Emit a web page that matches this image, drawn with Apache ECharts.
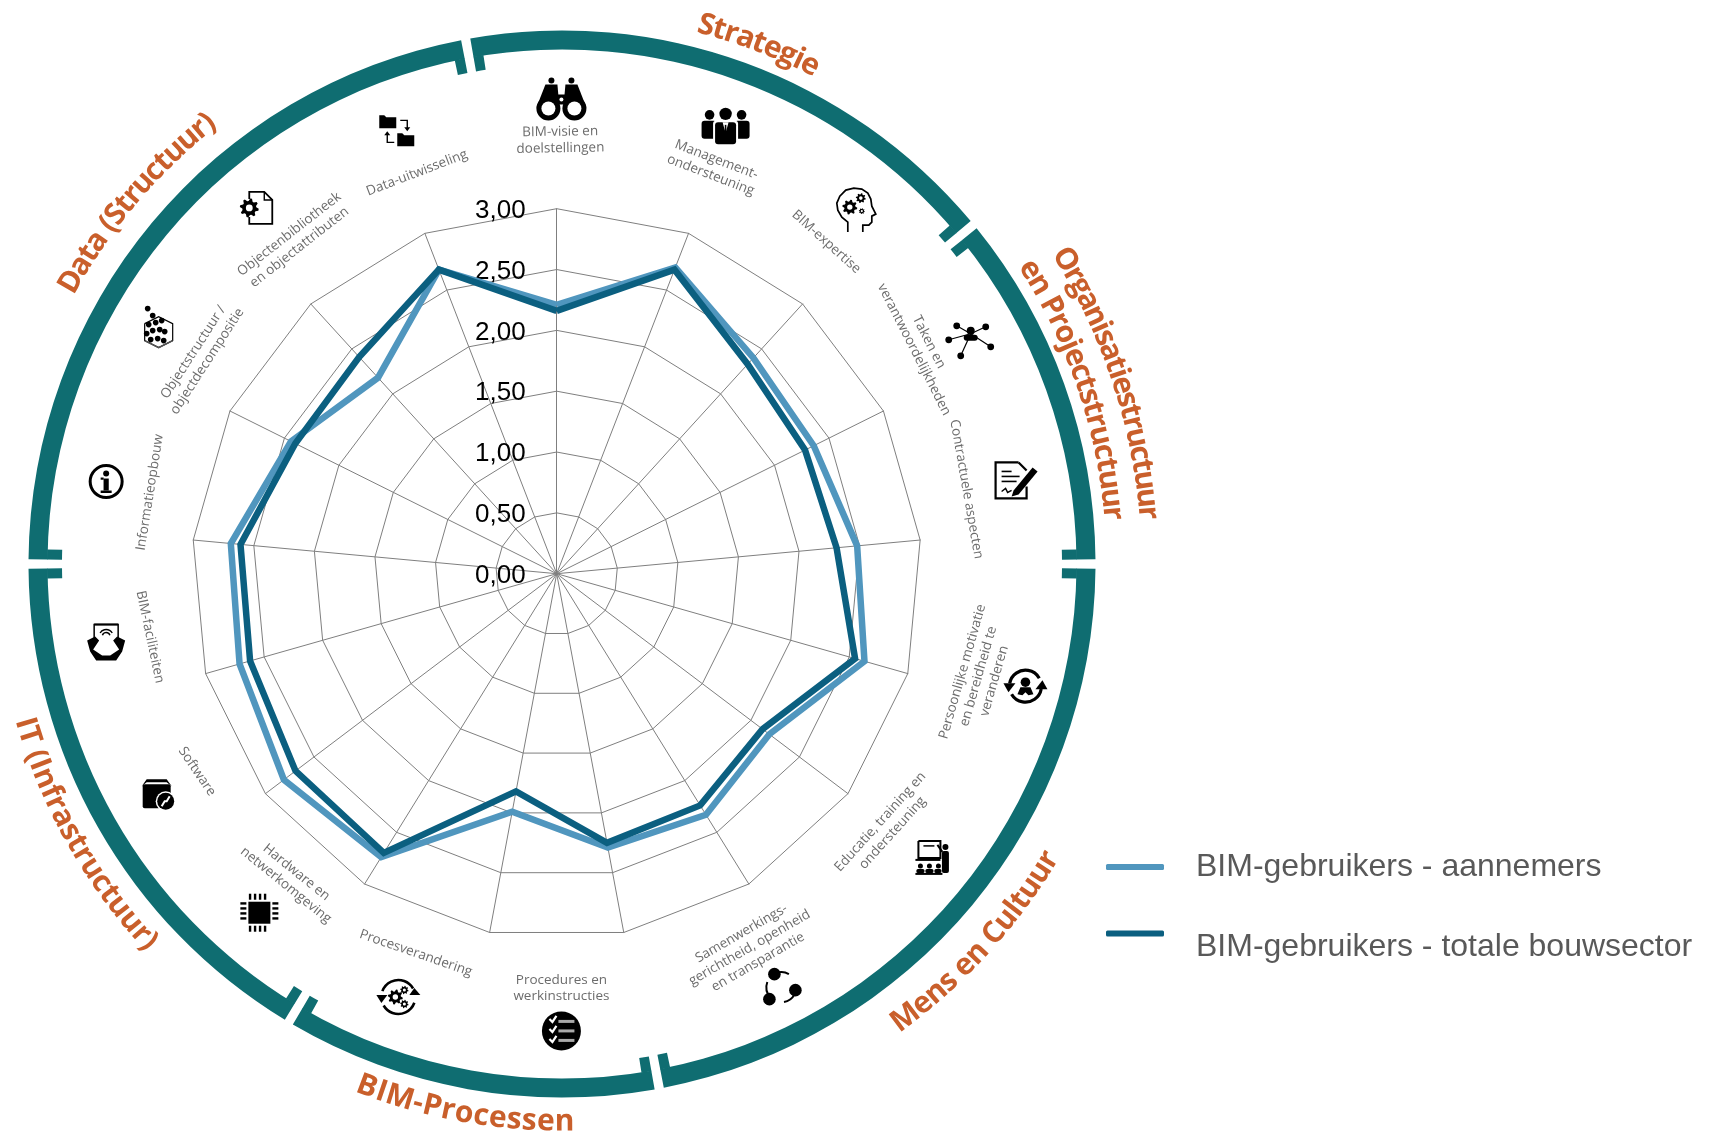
<!DOCTYPE html>
<html>
<head>
<meta charset="utf-8">
<title>BIM-gebruikers radar</title>
<style>html,body{margin:0;padding:0;background:#fff}#c{width:1716px;height:1135px}</style>
<script src="https://cdn.jsdelivr.net/npm/echarts@6/dist/echarts.min.js"></script>
</head>
<body>
<div id="c"></div>
<script>
const categories = ['BIM-visie en\ndoelstellingen','Management-\nondersteuning','BIM-expertise','Taken en\nverantwoordelijkheden','Contractuele aspecten','Persoonlijke motivatie\nen bereidheid te\nveranderen','Educatie, training en\nondersteuning','Samenwerkings-\ngerichtheid, openheid\nen transparantie','Procedures en\nwerkinstructies','Procesverandering','Hardware en\nnetwerkomgeving','Software','BIM-faciliteiten','Informatieopbouw','Objectstructuur /\nobjectdecompositie','Objectenbibliotheek\nen objectattributen','Data-uitwisseling'];
const aannemers = [2.21,2.70,2.40,2.36,2.48,2.63,2.19,2.33,2.29,1.99,2.74,2.81,2.71,2.69,2.44,2.18,2.68];
const totaleBouwsector = [2.16,2.68,2.33,2.28,2.31,2.55,2.12,2.24,2.25,1.82,2.70,2.69,2.62,2.61,2.40,2.41,2.68];
const tickLabels = ['0,00','0,50','1,00','1,50','2,00','2,50','3,00'];
const seriesNames = ['BIM-gebruikers - aannemers','BIM-gebruikers - totale bouwsector'];
const axisMax = 3;

const S = 1716/1568, DEG = Math.PI/180;
const RC = [562,564];
const TEAL='#0F6D71', ORANGE='#C95F2B', GRAY='#6c6c6c';

// ---- decorative ring
const gaps=[349.6,50.5,90,169.5,210.8,270];
const elements=[];
function sector(r0,r,a0,a1){return {type:'sector',shape:{cx:RC[0],cy:RC[1],r0,r,startAngle:(a0-90)*DEG,endAngle:(a1-90)*DEG,clockwise:true},style:{fill:TEAL}};}
const gapHalf=0.5, tickW=1.12;
gaps.forEach((g,i)=>{
  const n=gaps[(i+1)%gaps.length]; const a0=g+gapHalf; let a1=n-gapHalf; if(a1<a0)a1+=360;
  elements.push(sector(514.5,533.5,a0,a1));
  elements.push(sector(500,515,a0,a0+tickW));
  elements.push(sector(500,515,a1-tickW,a1));
});

// ---- curved group titles
const measure=document.createElement('canvas').getContext('2d');
function curved(text,r,a0,a1,size){
  const font='700 '+size+'px "Open Sans"'; measure.font=font;
  const adv=[...text].map(c=>measure.measureText(c).width);
  const total=adv.reduce((a,b)=>a+b,0); const outward=a1>a0; let cum=0;
  [...text].forEach((c,i)=>{
    const t=(cum+adv[i]/2)/total; cum+=adv[i];
    const th=a0+(a1-a0)*t;
    const x=RC[0]+r*Math.sin(th*DEG), y=RC[1]-r*Math.cos(th*DEG);
    const rot=outward?-th*DEG:-(th-180)*DEG;
    if(c!==' ')elements.push({type:'text',x,y,rotation:rot,style:{text:c,font,fill:ORANGE,align:'center',verticalAlign:'middle',textAlign:'center',textVerticalAlign:'middle'}});
  });
}
const groupTitles=['Strategie','Organisatiestructuur','en Projectstructuur','Mens en Cultuur','BIM-Processen','IT (Infrastructuur)','Data (Structuur)'];
const titleArcs=[[557,14.2,27.3,30],[588,57.8,85.6,30],[553,57,85.4,30],[569,144.2,120.6,30],[558,201.5,178.7,30],[560,254,227,30],[566,298.9,321.8,30]];
groupTitles.forEach((t,i)=>curved(t,...titleArcs[i]));

// ---- category labels (position in reduced px, rotation clockwise deg)
const labelPlace=[[512,128,-1],[652,153,21],[755,221,42],[842,316,63],[883,447,80],[894,618,-74],[810,756,-48],[685,866,-30],[513,903,0],[380,871,19],[266,803,39],[180,705,56],[137,582,78],[137,450,-81],[183,326,-57],[269,220,-38],[381,158,-21]];
categories.forEach((t,i)=>{const p=labelPlace[i];
  elements.push({type:'text',x:p[0]*S,y:p[1]*S,rotation:-p[2]*DEG,style:{text:t,font:'13.5px "Open Sans"',fill:GRAY,lineHeight:16.5,align:'center',verticalAlign:'middle',textAlign:'center',textVerticalAlign:'middle'}});
});

// ---- icon primitives
const C=(x,y,r,fill='#000')=>({type:'circle',shape:{cx:x,cy:y,r},style:{fill}});
const O=(x,y,r,w)=>({type:'circle',shape:{cx:x,cy:y,r},style:{fill:'none',stroke:'#000',lineWidth:w}});
const R=(x,y,w,h,fill='#000',r=0)=>({type:'rect',shape:{x,y,width:w,height:h,r},style:{fill}});
const L=(points,w=1.5,stroke='#000')=>({type:'polyline',shape:{points},style:{fill:'none',stroke,lineWidth:w}});
const PG=(points,fill='#000')=>({type:'polygon',shape:{points},style:{fill}});
const A=(x,y,r,a0,a1,w=2.5)=>({type:'arc',shape:{cx:x,cy:y,r,startAngle:a0*DEG,endAngle:a1*DEG,clockwise:true},style:{fill:'none',stroke:'#000',lineWidth:w}});
function gear(x,y,r){const pts=[];const n=8;for(let i=0;i<n*4;i++){const a=(i+0.5)/(n*4)*2*Math.PI;const rr=(i%4<2)?r:r*0.74;pts.push([x+rr*Math.cos(a),y+rr*Math.sin(a)]);}return [PG(pts),C(x,y,r*0.36,'#fff')];}
function folder(x,y){return [PG([[x-9,y-7],[x-4,y-7],[x-2,y-5],[x+8,y-5],[x+8,y+6],[x-9,y+6]])];}
const icons=[
 [C(-10,-18,3),C(10,-18,3),PG([[-16,-14],[-4,-14],[-2,9],[-25,9]]),PG([[16,-14],[4,-14],[2,9],[25,9]]),R(-5,-4,10,10),C(-13,10,12),C(13,10,12),C(-13,10,7,'#fff'),C(13,10,7,'#fff'),C(0,1,2,'#fff')],
 [C(-16,-11,4.8),R(-24,-5,15,18,'#000',3),C(16,-11,4.8),R(9,-5,15,18,'#000',3),C(0,-12,6.2),R(-12.5,-5,25,25,'#fff',3),R(-10.5,-3.5,21,22,'#000',3),PG([[-3,-3.5],[3,-3.5],[0,7]],'#fff'),L([[0,-1],[0,9]],1.6)],
 [L([[-8,22],[-8,12],[-14,7],[-18,0],[-19,-7],[-16,-14],[-10,-20],[-2,-22],[6,-21],[12,-17],[15,-11],[16,-4],[20,4],[16,6],[16,12],[13,15],[7,15],[7,22]],1.7),...gear(-6,-3,7.5),...gear(5,-12,5),...gear(6,1,3)],
 [L([[0,0],[-14,-8]],1.2),L([[0,0],[15,-7]],1.2),L([[0,0],[-22,6]],1.2),L([[0,0],[20,13]],1.2),L([[0,0],[-10,22]],1.2),C(-14,-8,3.4),C(15,-7,3.4),C(-22,6,3.4),C(20,13,3.4),C(-10,22,3.4),C(0,-3,4),R(-7,1,14,6,'#000',3)],
 [L([[3,-18],[-20,-18],[-20,18],[11,18],[11,6]],2.2),L([[3,-18],[11,-10]],2.2),L([[-14,-9],[-4,-9]],1.6),L([[-14,-4],[4,-4]],1.6),L([[-14,1],[1,1]],1.6),L([[-14,11],[-10,8],[-8,12],[-4,10]],1.4),PG([[-2,10],[17,-13],[22,-9],[3,14],[-4,16]])],
 [A(0,0,16,190,330,3.2),A(0,0,16,10,150,3.2),PG([[-22,-3],[-10,-3],[-17,6]]),PG([[22,3],[10,3],[17,-6]]),C(0,-4,4.8),PG([[-8,8],[-5,1],[5,1],[8,8],[3,9],[0,6],[-3,9]])],
 [L([[-14,-16],[8,-16],[8,1],[-14,1],[-14,-16]],2),L([[-17,3],[8,3]],2),L([[-9,-11],[2,-11]],1.5),C(13,-10,3),R(9.5,-6,7,22,'#000',2),L([[10,-5],[5,-12]],2),C(-12,9,2.5),C(-3,9,2.5),C(6,9,2.5),R(-16,12,8,4,'#000',1.5),R(-7,12,8,4,'#000',1.5),R(2,12,7,4,'#000',1.5),R(-17,16,27,2)],
 [A(0,0,15,250,300,2),A(0,0,15,30,80,2),A(0,0,15,135,200,2),C(-7,-13,6.3),C(14,3,6.3),C(-12,12,6.3)],
 [C(0,0,19.5),L([[-12,-12],[-9,-9],[-5,-15]],2.2,'#fff'),L([[-12,-2],[-9,1],[-5,-5]],2.2,'#fff'),L([[-12,8],[-9,11],[-5,5]],2.2,'#fff'),R(-3,-11,16,3,'#aaa'),R(-3,-1.5,16,3,'#aaa'),R(-3,8,16,3,'#aaa')],
 [A(0,0,17,200,330,2.6),A(0,0,17,20,150,2.6),PG([[-22,-2],[-11,-2],[-17,6]]),PG([[22,-2],[11,-2],[16,-9]]),...gear(-3,0,7.5),...gear(6,-7,4.2),...gear(6,7,4.2)],
 [R(-11,-11,22,22),...[-1,0,1,2].flatMap(i=>{const v=-7.5+i*5+3.2;return [R(v-1.2,-19,2.4,6),R(v-1.2,13,2.4,6),R(-19,v-1.2,6,2.4),R(13,v-1.2,6,2.4)];})],
 [R(-16,-8,28,24,'#000',2),PG([[-17,-6],[-12,-13],[8,-13],[13,-6],[8,-10],[-12,-10]]),C(7,9,10,'#fff'),C(7,9,8.5),L([[3,14],[6,9],[8,9],[11,4]],2,'#fff')],
 [L([[-12,-4],[-12,-19],[12,-19],[12,-4]],1.5),L([[-12,-19],[12,-19]],2),A(0,-7,4,200,340,1.5),A(0,-7,7,210,330,1.4),PG([[-19,-3],[-11,-7],[-7,-3],[-13,6],[-4,12],[4,12],[13,6],[7,-3],[11,-7],[19,-3],[16,8],[10,17],[-10,17],[-16,8]])],
 [O(0,0,16,3),C(0,-8,3),R(-2.6,-3,5.2,12),R(-5.5,9,11,2.5),R(-5.5,-4,3,2.2)],
 [L([[-14,-8],[0,-15],[14,-8],[14,9],[0,16],[-14,9],[-14,-8]],1.2),L([[-14,9],[0,16],[14,9]],1.6,'#555'),C(-11,-23,2.8),C(-6,-16,2.8),C(-10,-7,2.8),C(-3,-9,2.8),C(3,-11,2.8),C(-6,-1,2.8),C(-12,2,2.8),C(1,-2,2.8),C(6,0,2.8),C(-8,8,2.8),C(-1,7,2.8),C(5,9,2.8)],
 [L([[-9,-9],[-9,-16],[6,-16],[14,-8],[14,16],[-9,16],[-9,9]],1.8),L([[6,-16],[6,-8],[14,-8]],1.4),...gear(-9,0,9.5)],
 [...folder(-9,-9),...folder(9,9),L([[3,-11],[10,-11],[10,-3]],1.4),PG([[7,-4],[13,-4],[10,0]]),L([[-3,11],[-10,11],[-10,3]],1.4),PG([[-13,4],[-7,4],[-10,0]])]
];
const iconPlace=[[513,90],[663,115],[782,192],[887,305],[928,439],[937,627],[852,783],[714,902],[513,942],[364,911],[237,834],[145,724],[97,588],[97,440],[145,303],[236,190],[363,120]];
icons.forEach((ch,i)=>{elements.push({type:'group',x:iconPlace[i][0]*S,y:iconPlace[i][1]*S,children:ch});});

// ---- radar (ECharts lays indicators out counter-clockwise, categories run clockwise)
const order=categories.map((_,i)=>(categories.length-i)%categories.length);
const indicator=order.map((k,i)=>({name:categories[k],max:axisMax,min:0,axisLabel:{show:i===0}}));
const pick=a=>order.map(k=>a[k]);
const colors=['#5096BE','#0B5F80'];
const lineSeries=[aannemers,totaleBouwsector].map((v,i)=>({
  type:'radar',symbol:'none',z:3+i,name:seriesNames[i],
  lineStyle:{color:colors[i],width:6.5,join:'miter',miterLimit:10},
  itemStyle:{color:colors[i]},
  data:[{name:seriesNames[i],value:pick(v)}]
}));
const legendBase={orient:'vertical',icon:'roundRect',itemWidth:58,itemHeight:6,padding:0,selectedMode:false,left:1106};
const chart=echarts.init(document.getElementById('c'),null,{renderer:'canvas'});
chart.setOption({
  animation:false,backgroundColor:'#fff',
  legend:[
    {...legendBase,top:851,data:[seriesNames[0]],itemStyle:{color:colors[0],borderWidth:0},textStyle:{color:'#595959',fontFamily:'Liberation Sans',fontSize:32,padding:[0,0,0,27]}},
    {...legendBase,top:904,data:[seriesNames[1]],itemStyle:{color:colors[1],borderWidth:0},formatter:n=>'\n'+n,textStyle:{color:'#595959',fontFamily:'Liberation Sans',fontSize:32,lineHeight:27,padding:[0,0,0,27]}}
  ],
  radar:{
    center:[556.7,573.7],radius:365,startAngle:90,splitNumber:6,shape:'polygon',
    indicator,
    axisName:{show:false},
    axisLine:{show:true,lineStyle:{color:'#7f7f7f',width:1}},
    axisTick:{show:false},
    splitLine:{show:true,lineStyle:{color:'#7f7f7f',width:1}},
    splitArea:{show:false},
    axisLabel:{margin:31,color:'#000',fontFamily:'Liberation Sans',fontSize:26,verticalAlign:'top',padding:[-11,0,0,0],formatter:(v)=>tickLabels[Math.round(v*2)]}
  },
  graphic:{elements},
  series:lineSeries
});
</script>
</body>
</html>
